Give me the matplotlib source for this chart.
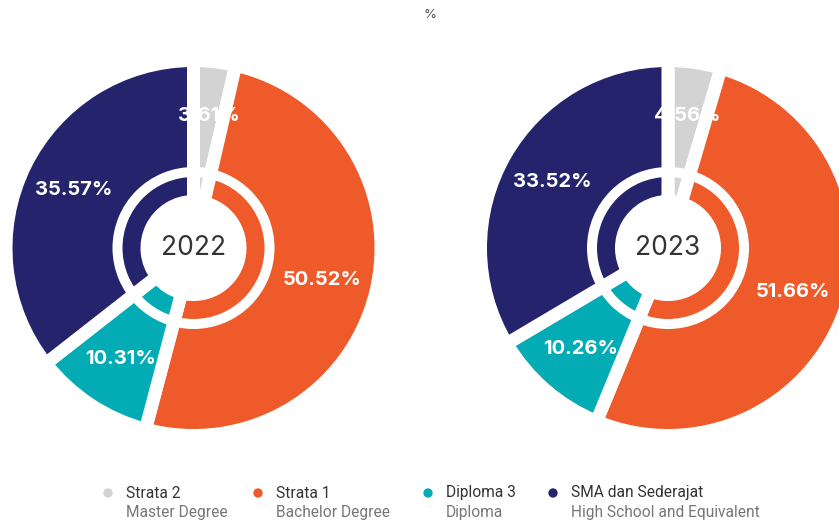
import numpy as np
import matplotlib.pyplot as plt
from matplotlib.patches import Wedge

# education level shares per year (%)
categories = ["Strata 2", "Strata 1", "Diploma 3", "SMA dan Sederajat"]
subtitles = ["Master Degree", "Bachelor Degree", "Diploma", "High School and Equivalent"]
years = ["2022", "2023"]
share_2022 = [3.61, 50.52, 10.31, 35.57]
share_2023 = [4.56, 51.66, 10.26, 33.52]

colors = ["#D3D3D3", "#EE5A29", "#03ABB5", "#24236B"]

W, H = 839, 524
fig = plt.figure(figsize=(W / 100, H / 100), dpi=100)
ax = fig.add_axes([0, 0, 1, 1])

GAP = 13  # px of white between slices
R_OUT, R_IN = 181, 53          # visible outer / inner radius of the donut
BAND_OUT, BAND_IN = 81, 71     # white ring splitting the donut
LABEL_R = 133


def donut(values, cx, cy, year):
    r = R_OUT + GAP / 2
    ax.pie(values, colors=colors, radius=r, center=(cx, cy),
           startangle=90, counterclock=False,
           wedgeprops=dict(width=r - (R_IN - GAP / 2), edgecolor="white",
                           linewidth=GAP * 72 / 100))
    ax.add_patch(Wedge((cx, cy), BAND_OUT, 0, 360, width=BAND_OUT - BAND_IN,
                       facecolor="white", edgecolor="none", zorder=3))
    # value labels at the middle of each slice
    ends = np.cumsum(values) / sum(values) * 360
    starts = ends - np.array(values) / sum(values) * 360
    for v, a0, a1 in zip(values, starts, ends):
        mid = np.deg2rad((a0 + a1) / 2)
        ax.text(cx + LABEL_R * np.sin(mid), cy + LABEL_R * np.cos(mid),
                f"{v:.2f}%", color="white", fontsize=14.5, fontweight="bold",
                family="Inter", ha="center", va="center", zorder=4)
    ax.text(cx, cy, year, color="#333333", fontsize=19, family="Inter",
            ha="center", va="center", zorder=4)


donut(share_2022, 193.5, H - 248, years[0])
donut(share_2023, 668, H - 248, years[1])

ax.text(430, H - 15, "%", color="#555555", fontsize=9.5, family="Inter",
        ha="center", va="center")

# legend along the bottom
leg_x = [108, 258, 428, 553]
for x, c, name, sub in zip(leg_x, colors, categories, subtitles):
    ax.scatter([x], [H - 493], s=45, color=c, edgecolors="none")
    ax.text(x + 18, H - 493, name, color="#333333", fontsize=11.2,
            family="Roboto", ha="left", va="center")
    ax.text(x + 18, H - 513, sub, color="#777777", fontsize=11.2,
            family="Roboto", ha="left", va="center")

ax.set_xlim(0, W)
ax.set_ylim(0, H)
ax.set_aspect("equal")
ax.axis("off")

fig.savefig("out.png", dpi=100, facecolor="white")
